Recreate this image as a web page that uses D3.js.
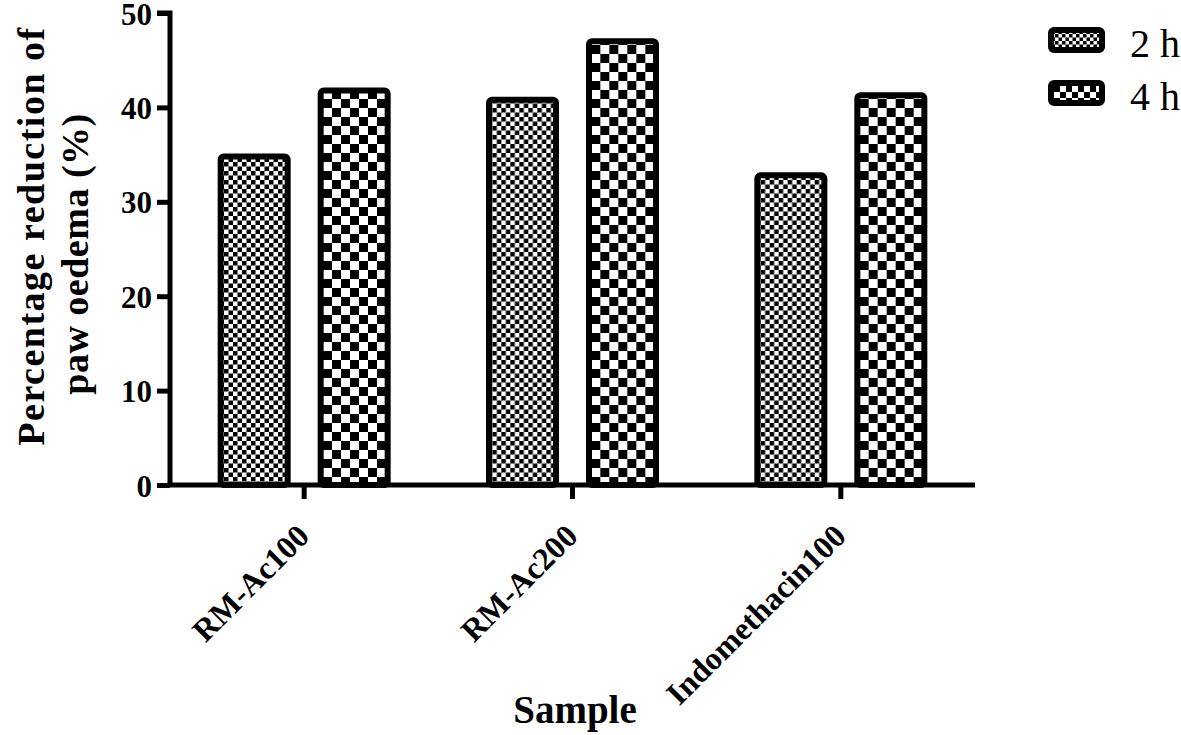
<!DOCTYPE html>
<html>
<head>
<meta charset="utf-8">
<script src="https://cdn.jsdelivr.net/npm/d3@7/dist/d3.min.js"></script>
<style>
  html, body { margin: 0; padding: 0; background: #fff; }
  svg { display: block; }
  text { font-family: "Liberation Serif", "Times New Roman", serif; fill: #000; }
</style>
</head>
<body>
<script>
const categories = ["RM-Ac100", "RM-Ac200", "Indomethacin100"];
const seriesNames = ["2 h", "4 h"];
const values2h = [34.8, 40.8, 32.8];
const values4h = [41.8, 47.0, 41.3];
const yTicks = [0, 10, 20, 30, 40, 50];

const W = 1181, H = 735;
const svg = d3.select("body").append("svg").attr("width", W).attr("height", H);

const defs = svg.append("defs");
function checker(id, c) {
  const p = defs.append("pattern").attr("id", id)
    .attr("patternUnits", "userSpaceOnUse")
    .attr("width", 2 * c).attr("height", 2 * c);
  p.append("rect").attr("width", 2 * c).attr("height", 2 * c).attr("fill", "#fff");
  p.append("rect").attr("x", 0).attr("y", 0).attr("width", c).attr("height", c).attr("fill", "#000");
  p.append("rect").attr("x", c).attr("y", c).attr("width", c).attr("height", c).attr("fill", "#000");
}
checker("fine", 4.5);
checker("coarse", 9);
checker("fineL", 3.5);
checker("coarseL", 6);

const x0 = d3.scaleBand().domain(categories).range([170, 975]).padding(0);
const x1 = d3.scaleBand().domain(seriesNames)
  .range([x0.bandwidth() / 2 - 83.5, x0.bandwidth() / 2 + 83.5]).paddingInner(0.33);
const y = d3.scaleLinear().domain([0, 50]).range([485, 13]);

const data = categories.map((c, i) => ({ cat: c, vals: [
  { s: seriesNames[0], v: values2h[i], fill: "url(#fine)" },
  { s: seriesNames[1], v: values4h[i], fill: "url(#coarse)" }
]}));

// bars
const g = svg.append("g");
g.selectAll("g.cat").data(data).join("g")
  .attr("transform", d => `translate(${x0(d.cat)},0)`)
  .selectAll("rect").data(d => d.vals).join("rect")
  .attr("x", d => x1(d.s))
  .attr("y", d => y(d.v))
  .attr("width", x1.bandwidth())
  .attr("height", d => y(0) - y(d.v))
  .attr("rx", 3)
  .attr("fill", d => d.fill)
  .attr("stroke", "#000")
  .attr("stroke-width", 6);

// y axis
const yAxis = d3.axisLeft(y).tickValues(yTicks).tickSize(13).tickPadding(5).tickFormat(d3.format("d"));
const ya = svg.append("g").attr("transform", "translate(170,0)").call(yAxis);
ya.select(".domain").attr("stroke-width", 5).attr("d", `M-13,${y(50)}H0V${y(0)}`);
ya.selectAll(".tick line").attr("stroke-width", 5);
ya.selectAll(".tick text").attr("font-size", 31).attr("font-weight", "bold")
  .attr("font-family", "'Liberation Serif', serif").attr("dy", "0.36em");

// x axis
const xAxis = d3.axisBottom(x0).tickSize(14).tickFormat("");
const xa = svg.append("g").attr("transform", `translate(0,${y(0)})`).call(xAxis);
xa.select(".domain").attr("stroke-width", 5).attr("d", "M167.5,0H975");
xa.selectAll(".tick line").attr("stroke-width", 5);

// category labels rotated
svg.append("g").selectAll("text").data(categories).join("text")
  .attr("transform", d => `translate(${x0(d) + x0.bandwidth() / 2 + 7},${538}) rotate(-45)`)
  .attr("text-anchor", "end")
  .attr("font-size", 32).attr("font-weight", "bold")
  .text(d => d);

// axis titles
svg.append("text").attr("x", 575).attr("y", 723).attr("text-anchor", "middle")
  .attr("font-size", 39).attr("font-weight", "bold").text("Sample");
svg.append("text").attr("transform", "translate(44,236) rotate(-90)")
  .attr("text-anchor", "middle").attr("font-size", 38).attr("font-weight", "bold")
  .attr("letter-spacing", 1.5).text("Percentage reduction of");
svg.append("text").attr("transform", "translate(88,254) rotate(-90)")
  .attr("text-anchor", "middle").attr("font-size", 38).attr("font-weight", "bold")
  .attr("letter-spacing", 0.5).text("paw oedema (%)");

// legend
const legFills = ["url(#fineL)", "url(#coarseL)"];
const leg = svg.append("g").selectAll("g").data(seriesNames).join("g")
  .attr("transform", (d, i) => `translate(1048,${27 + i * 53})`);
leg.append("rect").attr("x", 3).attr("y", 3).attr("width", 51).attr("height", 20)
  .attr("rx", 3).attr("fill", (d, i) => legFills[i]).attr("stroke", "#000").attr("stroke-width", 6);
leg.append("text").attr("x", 82).attr("y", 30).attr("font-size", 40).text(d => d);
</script>
</body>
</html>
